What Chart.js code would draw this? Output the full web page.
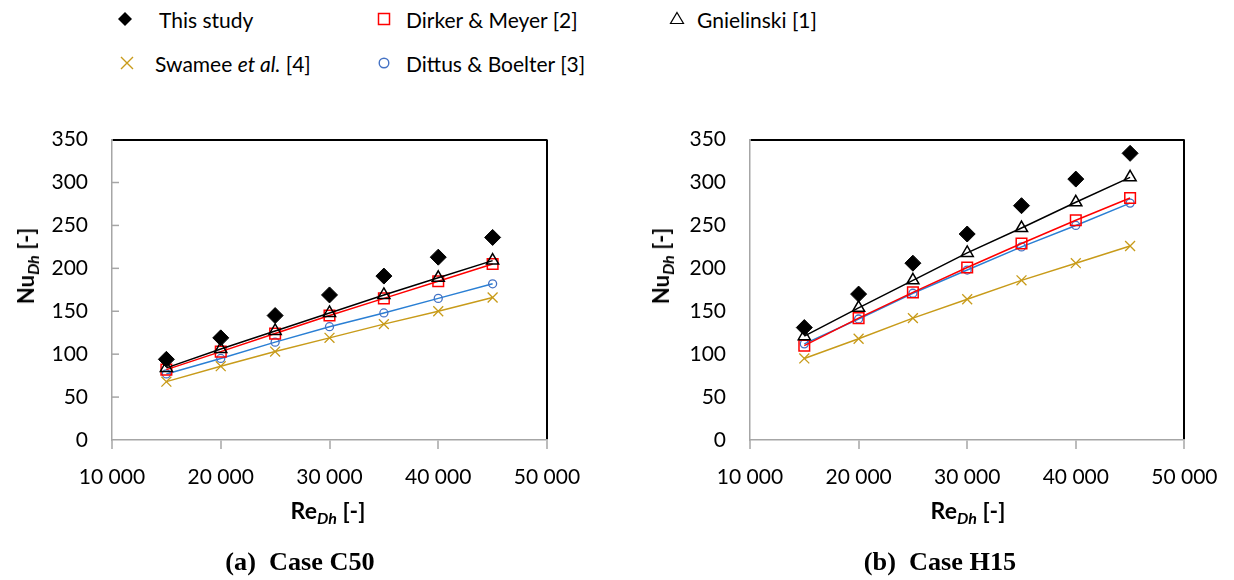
<!DOCTYPE html>
<html>
<head>
<meta charset="utf-8">
<script src="https://cdn.jsdelivr.net/npm/chart.js@4.4.1/dist/chart.umd.min.js"></script>
<style>
  body { margin: 0; background: #fff; }
  #wrap { position: relative; width: 1234px; height: 580px; font-family: Lato, "Open Sans", sans-serif; color: #000; overflow: hidden; }
  canvas { position: absolute; }
  .leg { position: absolute; font-size: 21px; white-space: nowrap; line-height: 1; transform: translateY(-50%); }
  .mk { position: absolute; transform: translate(-50%, -50%); }
  .ytitle { position: absolute; font-weight: bold; font-size: 22px; white-space: nowrap; transform: translate(-50%, -50%) rotate(-90deg); }
  .xtitle { position: absolute; font-weight: bold; font-size: 23px; white-space: nowrap; transform: translate(-50%, -50%); }
  .ytitle sub, .xtitle sub { font-style: italic; font-size: 16px; vertical-align: -5px; }
  .cap { position: absolute; font-family: "Liberation Serif", "DejaVu Serif", serif; font-weight: bold; font-size: 25px; white-space: nowrap; transform: translate(-50%, -50%) scaleX(1.05); }
</style>
</head>
<body>
<div id="wrap">
  <!-- legend -->
  <svg class="mk" style="left:125px;top:19px" width="16" height="16"><polygon points="8,1 15,8 8,15 1,8" fill="#000"/></svg>
  <div class="leg" style="left:159px;top:19px">This study</div>
  <svg class="mk" style="left:384px;top:19px" width="14" height="14"><rect x="1.5" y="1.5" width="11" height="11" fill="none" stroke="#ff0000" stroke-width="1.5"/></svg>
  <div class="leg" style="left:406px;top:19px">Dirker &amp; Meyer [2]</div>
  <svg class="mk" style="left:677px;top:18px" width="16" height="14"><polygon points="8,1.5 14.5,12.5 1.5,12.5" fill="none" stroke="#000" stroke-width="1.2"/></svg>
  <div class="leg" style="left:697px;top:19px">Gnielinski [1]</div>
  <svg class="mk" style="left:127px;top:63px" width="16" height="16"><path d="M2,2 L14,14 M14,2 L2,14" stroke="#c89b1a" stroke-width="1.4"/></svg>
  <div class="leg" style="left:155px;top:63px">Swamee <i>et al.</i> [4]</div>
  <svg class="mk" style="left:384px;top:63px" width="14" height="14"><circle cx="7" cy="7" r="4.8" fill="none" stroke="#4472c4" stroke-width="1.4"/></svg>
  <div class="leg" style="left:406px;top:63px">Dittus &amp; Boelter [3]</div>

  <canvas id="chartA" width="600" height="397" style="left:0;top:103px"></canvas>
  <canvas id="chartB" width="596" height="397" style="left:638px;top:103px"></canvas>

  <div class="ytitle" style="left:27px;top:266px">Nu<sub>Dh</sub> [-]</div>
  <div class="ytitle" style="left:662px;top:266px">Nu<sub>Dh</sub> [-]</div>
  <div class="xtitle" style="left:328px;top:511px">Re<sub>Dh</sub> [-]</div>
  <div class="xtitle" style="left:968px;top:511px">Re<sub>Dh</sub> [-]</div>
  <div class="cap" style="left:300px;top:562px">(a)&nbsp;&nbsp;Case C50</div>
  <div class="cap" style="left:940px;top:562px">(b)&nbsp;&nbsp;Case H15</div>
</div>
<script>
// Reynolds numbers
const reValues = [15000, 20000, 25000, 30000, 35000, 40000, 45000];
const xTicks = [10000, 20000, 30000, 40000, 50000];
const yTicks = [0, 50, 100, 150, 200, 250, 300, 350];

// (a) Case C50
const c50Study = [94, 119, 145, 169, 191, 213, 236];
const c50Gnielinski = [84, 106, 127, 148, 169, 189, 209];
const c50Dirker = [82, 103, 124, 145, 165, 185, 205];
const c50Dittus = [77, 95, 114, 132, 148, 165, 182];
const c50Swamee = [68, 86, 103, 119, 135, 150, 166];

// (b) Case H15
const h15Study = [131, 170, 206, 240, 273, 304, 334];
const h15Gnielinski = [121, 154, 186, 218, 247, 277, 306];
const h15Dirker = [110, 142, 172, 201, 229, 256, 282];
const h15Dittus = [112, 141, 171, 198, 225, 250, 276];
const h15Swamee = [95, 118, 142, 164, 186, 206, 226];

const axisGray = '#a6a6a6';
const tickFont = { family: 'Lato', size: 21 };

function pts(ys) {
  return ys.map((y, i) => ({ x: reValues[i], y: y }));
}

// tick marks pointing into the plot on the left chart's y axis
const insideTicks = {
  id: 'insideTicks',
  beforeDatasetsDraw(chart, args, opts) {
    if (!opts.len) return;
    const ys = chart.scales.y, ctx = chart.ctx;
    ctx.save();
    ctx.strokeStyle = axisGray;
    ctx.lineWidth = 1.5;
    ys.ticks.forEach(t => {
      if (t.value === 0 || t.value === 350) return;
      const py = ys.getPixelForValue(t.value);
      ctx.beginPath();
      ctx.moveTo(ys.right, py);
      ctx.lineTo(ys.right + opts.len, py);
      ctx.stroke();
    });
    ctx.restore();
  }
};

function makeChart(id, study, gni, dirker, dittus, swamee, yTickLen, padRight) {
  return new Chart(id, {
    type: 'scatter',
    data: {
      datasets: [{
        label: 'This study',
        data: pts(study),
        pointStyle: 'rectRot',
        pointRadius: 8,
        backgroundColor: '#000',
        borderColor: '#000',
        borderWidth: 1,
        showLine: false
      }, {
        label: 'Gnielinski [1]',
        data: pts(gni),
        pointStyle: 'triangle',
        pointRadius: 7,
        pointBackgroundColor: 'rgba(255,255,255,0)',
        pointBorderColor: '#000',
        pointBorderWidth: 1.5,
        borderColor: '#000',
        borderWidth: 1.5,
        showLine: true
      }, {
        label: 'Dirker & Meyer [2]',
        data: pts(dirker),
        pointStyle: 'rect',
        pointRadius: 7.5,
        pointBackgroundColor: 'rgba(255,255,255,0)',
        pointBorderColor: '#ff0000',
        pointBorderWidth: 1.5,
        borderColor: '#ff0000',
        borderWidth: 1.5,
        showLine: true
      }, {
        label: 'Dittus & Boelter [3]',
        data: pts(dittus),
        pointStyle: 'circle',
        pointRadius: 4,
        pointBackgroundColor: 'rgba(255,255,255,0)',
        pointBorderColor: '#4472c4',
        pointBorderWidth: 1.3,
        borderColor: '#2a7fd4',
        borderWidth: 1.5,
        showLine: true
      }, {
        label: 'Swamee et al. [4]',
        data: pts(swamee),
        pointStyle: 'crossRot',
        pointRadius: 7,
        pointBorderColor: '#c89b1a',
        pointBorderWidth: 1.3,
        borderColor: '#c89b1a',
        borderWidth: 1.5,
        showLine: true
      }]
    },
    options: {
      responsive: false,
      animation: false,
      layout: { padding: { left: 0, top: 2, right: padRight, bottom: 0 } },
      plugins: {
        legend: { display: false },
        tooltip: { enabled: false },
        insideTicks: { len: yTickLen }
      },
      scales: {
        x: {
          type: 'linear',
          min: 10000,
          max: 50000,
          afterBuildTicks: a => { a.ticks = xTicks.map(v => ({ value: v })); },
          afterFit: a => { a.height = 60; },
          ticks: {
            font: tickFont,
            color: '#000',
            padding: 16,
            maxRotation: 0,
            callback: v => String(v).replace(/\B(?=(\d{3})+(?!\d))/g, ' ')
          },
          grid: {
            drawOnChartArea: true,
            color: c => (c.tick && c.tick.value === 50000) ? '#000' : 'rgba(0,0,0,0)',
            lineWidth: 2,
            drawTicks: true,
            tickLength: 9,
            tickColor: axisGray,
            tickWidth: 1.5
          },
          border: { color: axisGray, width: 1.5 }
        },
        y: {
          min: 0,
          max: 350,
          afterBuildTicks: a => { a.ticks = yTicks.map(v => ({ value: v })); },
          afterFit: a => { a.width = 112; },
          ticks: { font: tickFont, color: '#000', padding: 24 },
          grid: {
            drawTicks: false,
            color: c => (c.tick && c.tick.value === 350) ? '#000' : 'rgba(0,0,0,0)',
            lineWidth: 2
          },
          border: { color: axisGray, width: 1.5 }
        }
      }
    },
    plugins: [insideTicks]
  });
}

makeChart('chartA', c50Study, c50Gnielinski, c50Dirker, c50Dittus, c50Swamee, 7, 53);
makeChart('chartB', h15Study, h15Gnielinski, h15Dirker, h15Dittus, h15Swamee, 0, 49.6);
</script>
</body>
</html>
